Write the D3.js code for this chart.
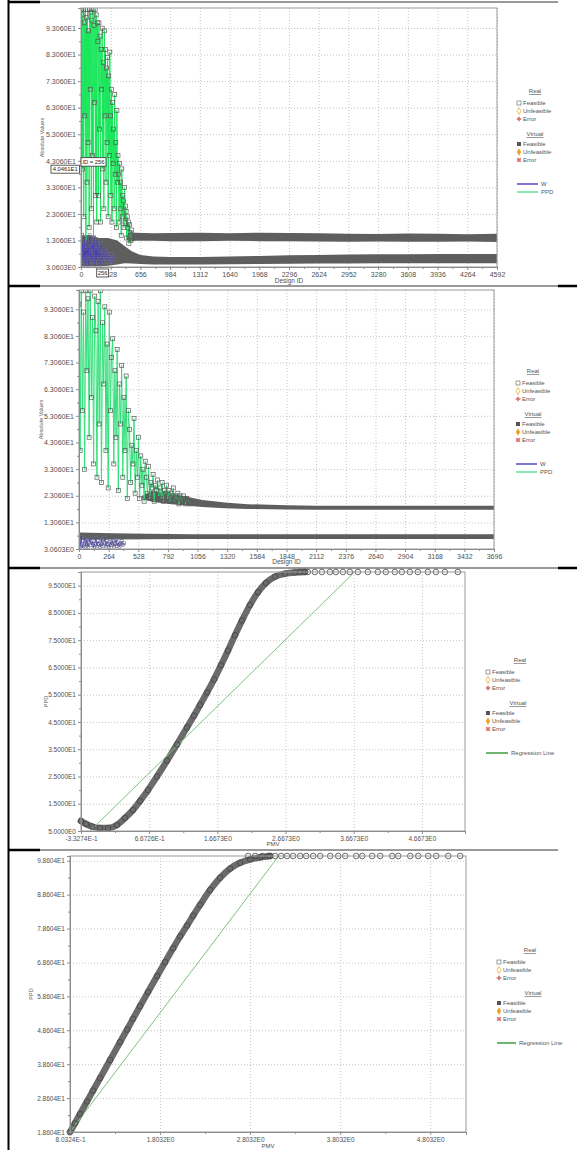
<!DOCTYPE html>
<html>
<head>
<meta charset="utf-8">
<script src="https://cdn.jsdelivr.net/npm/d3@7"></script>
<style>
body { margin: 0; background: #fff; }
</style>
</head>
<body>
<svg width="577" height="1150"></svg>
<script>
var FONT = "Liberation Sans, Arial, sans-serif";

// ---------- panel 1 : design history, 4592 designs ----------
var p1XTicks = [0, 328, 656, 984, 1312, 1640, 1968, 2296, 2624, 2952, 3280, 3608, 3936, 4264, 4592];
var p1YTicks = [3.0603, 13.060, 23.060, 33.060, 43.060, 53.060, 63.060, 73.060, 83.060, 93.060];
var p1YLabels = ["3.0603E0", "1.3060E1", "2.3060E1", "3.3060E1", "4.3060E1", "5.3060E1", "6.3060E1", "7.3060E1", "8.3060E1", "9.3060E1"];
// real PPD designs, one value every 6 ids
var p1PpdStep = 6;
var p1Ppd = [100, 15, 98, 40, 100, 22, 95, 60, 100, 12, 97, 35, 100, 50, 92, 18, 100, 70, 99, 25, 96, 45, 100, 14, 94, 65, 100, 30, 98, 20, 95,
  88, 30, 95, 55, 90, 20, 85, 70, 93, 40, 80, 25, 92, 60,
  85, 35, 78, 50, 82, 22, 75, 45, 84,
  60, 30, 70, 20, 65, 42, 55, 25, 68, 38, 50, 18, 62, 35, 45,
  38, 20, 42, 25, 35, 15, 40, 22, 30, 28, 18, 33, 20, 26,
  24, 14, 22, 18, 20, 12, 19, 16, 15, 13, 17, 14];
// real W designs, one value every 8 ids
var p1WStep = 8;
var p1W = [8, 4, 12, 6, 14, 5, 10, 3.5, 13, 7, 11, 4, 15, 6, 9, 5, 12, 8, 14, 4, 10, 6, 13, 5, 11, 7, 9, 4, 12, 6, 8, 5, 10, 7, 6, 9, 5, 8, 6, 7, 5, 6, 8, 5, 7, 6];
// virtual designs: [id, low, high]
var p1VirtUpper = [[500, 13.5, 14.5], [540, 12.7, 16.2], [600, 12.9, 16.0], [800, 12.9, 15.8], [1000, 12.8, 15.9], [1312, 12.8, 16.0], [1640, 12.9, 15.8],
  [1968, 12.8, 16.0], [2296, 12.8, 15.9], [2624, 12.7, 15.8], [2952, 12.6, 15.6], [3280, 12.7, 15.5], [3608, 12.6, 15.7],
  [3936, 12.6, 15.6], [4264, 12.7, 15.4], [4592, 12.5, 15.6]];
var p1VirtLower = [[0, 3.3, 15], [100, 3.3, 15], [200, 3.3, 14], [300, 3.5, 14], [400, 4.0, 13], [480, 4.5, 11], [560, 4.4, 9],
  [656, 4.2, 7.6], [800, 4.0, 7.0], [984, 4.0, 6.8], [1312, 4.0, 6.8], [1640, 4.1, 7.0], [1968, 4.2, 7.2], [2296, 4.3, 7.5],
  [2624, 4.4, 7.6], [2952, 4.4, 7.8], [3280, 4.5, 7.9], [3608, 4.5, 7.9], [3936, 4.5, 8.0], [4264, 4.5, 8.0], [4592, 4.5, 8.0]];
var p1Pick = { id: 256, value: 40.461, idText: "ID = 256", valueText: "4.0461E1" };

// ---------- panel 2 : design history, 3696 designs ----------
var p2XTicks = [0, 264, 528, 792, 1056, 1320, 1584, 1848, 2112, 2376, 2640, 2904, 3168, 3432, 3696];
var p2YTicks = p1YTicks;
var p2YLabels = p1YLabels;
var p2PpdStep = 10;
var p2Ppd = [95, 40, 100, 55, 92, 33, 100, 70, 97, 45, 100, 60, 90, 35, 98,
  85, 30, 96, 50, 100, 28, 88, 65, 94, 40, 80, 26, 92, 55, 75,
  82, 35, 70, 45, 78, 25, 65, 50, 72, 30, 60, 40, 68, 22, 55,
  48, 28, 42, 35, 52, 24, 40, 30, 45, 22, 38, 27, 33, 21, 36,
  30, 24, 34, 22, 28, 26, 31, 21, 27, 25, 29, 23, 26, 22, 28, 21, 25, 24, 27, 22,
  25, 21, 24, 23, 26, 21, 23, 22, 24, 20, 23, 22, 21, 23, 22, 20, 22, 21, 21, 20];
var p2WStep = 10;
var p2W = [6, 4, 7.5, 3.5, 5, 7, 4, 6.5, 3.8, 5.5, 7, 4.5, 6, 3.6, 5, 7.2, 4, 6, 5, 3.8, 6.8, 4.2, 5.5, 7, 4, 6, 4.8, 3.7, 5.8, 4.5,
  6.2, 4, 5, 6.5, 4.2, 5.5, 4, 5, 6, 4.5, 5.2];
var p2VirtUpper = [[560, 22, 23], [650, 20.8, 25], [800, 20, 24], [950, 19.4, 22.8], [1100, 18.8, 21.5], [1300, 18.4, 20.5],
  [1500, 18.1, 19.9], [1848, 17.9, 19.5], [2112, 17.8, 19.3], [2640, 17.8, 19.3], [3168, 17.8, 19.3], [3696, 17.8, 19.3]];
var p2VirtLower = [[0, 6.5, 9.3], [300, 6.6, 9.0], [600, 6.7, 8.8], [1000, 6.8, 8.6], [1500, 6.8, 8.6], [2000, 6.8, 8.6],
  [2500, 6.8, 8.6], [3000, 6.8, 8.6], [3696, 6.8, 8.6]];

// ---------- panel 3 : PPD vs PMV ----------
var p3XTicks = [-0.33274, 0.66726, 1.6673, 2.6673, 3.6673, 4.6673];
var p3XLabels = ["-3.3274E-1", "6.6726E-1", "1.6673E0", "2.6673E0", "3.6673E0", "4.6673E0"];
var p3YTicks = [5, 15, 25, 35, 45, 55, 65, 75, 85, 95];
var p3YLabels = ["5.0000E0", "1.5000E1", "2.5000E1", "3.5000E1", "4.5000E1", "5.5000E1", "6.5000E1", "7.5000E1", "8.5000E1", "9.5000E1"];
var p3Pmv = [-0.333, -0.259, -0.171, -0.054, 0.063, 0.195, 0.313, 0.430, 0.533, 0.650, 0.782, 0.929, 1.075, 1.222, 1.325, 1.413,
  1.516, 1.618, 1.721, 1.823, 1.926, 2.029, 2.146, 2.264, 2.381, 2.513, 2.660, 2.806, 2.953];
var p3Ppd = [8.67, 7.57, 6.65, 6.10, 6.10, 7.20, 9.77, 12.70, 16.00, 20.00, 25.00, 30.80, 36.80, 43.00, 47.30, 51.20,
  55.80, 60.60, 65.80, 71.20, 76.80, 82.20, 87.90, 92.60, 96.00, 98.30, 99.40, 99.85, 100];
var p3TopPmv = [2.878, 2.995, 3.098, 3.201, 3.318, 3.406, 3.509, 3.611, 3.729, 3.875, 4.022, 4.139, 4.271, 4.374, 4.491,
  4.608, 4.755, 4.873, 5.005, 5.195];
var p3Regression = [[-0.20, 5], [3.68, 100]];

// ---------- panel 4 : PPD vs PMV ----------
var p4XTicks = [0.80324, 1.8032, 2.8032, 3.8032, 4.8032];
var p4XLabels = ["8.0324E-1", "1.8032E0", "2.8032E0", "3.8032E0", "4.8032E0"];
var p4YTicks = [18.604, 28.604, 38.604, 48.604, 58.604, 68.604, 78.604, 88.604, 98.604];
var p4YLabels = ["1.8604E1", "2.8604E1", "3.8604E1", "4.8604E1", "5.8604E1", "6.8604E1", "7.8604E1", "8.8604E1", "9.8604E1"];
var p4Pmv = [0.803, 0.859, 0.914, 0.992, 1.059, 1.137, 1.248, 1.359, 1.437, 1.503, 1.581, 1.670, 1.770, 1.859, 1.948, 2.026,
  2.103, 2.170, 2.248, 2.359, 2.470, 2.581, 2.692, 2.803, 2.914, 3.025];
var p4Ppd = [18.6, 21.2, 23.9, 27.6, 30.8, 34.5, 39.8, 45.1, 48.8, 52.0, 55.7, 59.9, 64.6, 68.7, 72.8, 76.3,
  79.5, 82.4, 85.6, 90.0, 93.6, 96.3, 98.0, 99.0, 99.6, 100];
var p4TopPmv = [2.781, 2.859, 2.936, 3.003, 3.081, 3.148, 3.214, 3.281, 3.359, 3.425, 3.503, 3.581, 3.692, 3.781, 3.859,
  3.981, 4.048, 4.159, 4.248, 4.381, 4.448, 4.581, 4.670, 4.781, 4.870, 5.003, 5.136];
var p4Regression = [[0.80324, 18.604], [3.12, 100]];

var svg = d3.select("svg");
svg.append("rect").attr("width", 577).attr("height", 1150).attr("fill", "#fff");

function styleAxis(s, fs) {
  s.attr("font-size", fs).attr("font-family", FONT);
  s.select(".domain").attr("stroke", "#8c8c8c");
  s.selectAll(".tick line").attr("stroke", "#8c8c8c");
  s.selectAll(".tick text").attr("fill", "#505050");
}

// grid + frame, then a layer for marks, then axes on top
function makePanel(o) {
  var x = d3.scaleLinear().domain(o.xDomain).range([o.left, o.right]);
  var y = d3.scaleLinear().domain(o.yDomain).range([o.bottom, o.top]);
  var w = o.right - o.left, h = o.bottom - o.top;
  svg.append("clipPath").attr("id", o.id).append("rect")
    .attr("x", o.left).attr("y", o.top).attr("width", w).attr("height", h);

  var grid = svg.append("g");
  grid.append("g").attr("transform", "translate(0," + o.bottom + ")")
    .call(d3.axisBottom(x).tickValues(o.xTicks).tickSize(-h).tickFormat(""))
    .call(function (s) { s.select(".domain").remove(); });
  grid.append("g").attr("transform", "translate(" + o.left + ",0)")
    .call(d3.axisLeft(y).tickValues(o.yTicks).tickSize(-w).tickFormat(""))
    .call(function (s) { s.select(".domain").remove(); });
  grid.selectAll("line").attr("stroke", "#c4c4c4").attr("stroke-dasharray", "1,2");

  var marks = svg.append("g");
  var top = svg.append("g");
  top.append("rect").attr("x", o.left).attr("y", o.top).attr("width", w).attr("height", h)
    .attr("fill", "none").attr("stroke", "#9a9a9a");

  var xMinor = d3.pairs(o.xTicks).map(function (p) { return (p[0] + p[1]) / 2; });
  var yMinor = d3.pairs(o.yTicks).map(function (p) { return (p[0] + p[1]) / 2; });
  top.append("g").attr("transform", "translate(0," + o.bottom + ")")
    .call(d3.axisBottom(x).tickValues(xMinor).tickSize(2).tickFormat(""))
    .call(styleAxis, o.fs);
  top.append("g").attr("transform", "translate(" + o.left + ",0)")
    .call(d3.axisLeft(y).tickValues(yMinor).tickSize(2).tickFormat(""))
    .call(styleAxis, o.fs);
  top.append("g").attr("transform", "translate(0," + o.bottom + ")")
    .call(d3.axisBottom(x).tickValues(o.xTicks).tickSize(3).tickPadding(2)
      .tickFormat(function (d, i) { return o.xLabels[i]; }))
    .call(styleAxis, o.fs);
  top.append("g").attr("transform", "translate(" + o.left + ",0)")
    .call(d3.axisLeft(y).tickValues(o.yTicks).tickSize(3).tickPadding(2)
      .tickFormat(function (d, i) { return o.yLabels[i]; }))
    .call(styleAxis, o.fs);

  top.append("text").text(o.xTitle)
    .attr("x", (o.left + o.right) / 2).attr("y", o.xTitleY)
    .attr("text-anchor", "middle").attr("font-size", o.fs - 0.5).attr("font-family", FONT).attr("fill", "#505050");
  top.append("text").text(o.yTitle)
    .attr("transform", "translate(" + o.yTitleX + "," + ((o.top + o.bottom) / 2) + ") rotate(-90)")
    .attr("text-anchor", "middle").attr("font-size", 5.5).attr("font-family", FONT).attr("fill", "#606060");

  return { x: x, y: y, marks: marks, top: top, clip: "url(#" + o.id + ")" };
}

function drawHistory(p, virtUpper, virtLower, ppd, ppdStep, w, wStep, green) {
  var band = d3.area()
    .x(function (d) { return p.x(d[0]); })
    .y0(function (d) { return p.y(d[1]); })
    .y1(function (d) { return p.y(d[2]); });
  var m = p.marks.append("g").attr("clip-path", p.clip);
  m.append("path").datum(virtLower).attr("d", band).attr("fill", "#5e5e5e");
  m.append("path").datum(virtUpper).attr("d", band).attr("fill", "#5e5e5e");

  var ppdPts = ppd.map(function (v, i) { return [i * ppdStep, v]; });
  var wPts = w.map(function (v, i) { return [i * wStep, v]; });
  var line = d3.line().x(function (d) { return p.x(d[0]); }).y(function (d) { return p.y(d[1]); });

  m.append("path").datum(ppdPts).attr("d", line).attr("fill", "none")
    .attr("stroke", green).attr("stroke-width", 1);
  m.selectAll(".sq").data(ppdPts).enter().append("rect")
    .attr("x", function (d) { return p.x(d[0]) - 2; })
    .attr("y", function (d) { return p.y(d[1]) - 2; })
    .attr("width", 4).attr("height", 4)
    .attr("fill", "none").attr("stroke", "#5a5a5a").attr("stroke-width", 0.7);
  m.append("path").datum(wPts).attr("d", line).attr("fill", "none")
    .attr("stroke", "#4a3fb8").attr("stroke-width", 1);
  m.selectAll(".sqw").data(wPts).enter().append("rect")
    .attr("x", function (d) { return p.x(d[0]) - 1.5; })
    .attr("y", function (d) { return p.y(d[1]) - 1.5; })
    .attr("width", 3).attr("height", 3)
    .attr("fill", "none").attr("stroke", "#6a6a8a").attr("stroke-width", 0.6);
}

function drawScatter(p, pmv, ppd, topPmv, reg) {
  var pts = pmv.map(function (v, i) { return [v, ppd[i]]; });
  var topPts = topPmv.map(function (v) { return [v, 100]; });
  var line = d3.line().curve(d3.curveMonotoneX)
    .x(function (d) { return p.x(d[0]); }).y(function (d) { return p.y(d[1]); });
  var m = p.marks;
  m.append("path").datum(pts).attr("d", line).attr("fill", "none")
    .attr("stroke", "#6b6b6b").attr("stroke-width", 6.5).attr("stroke-linecap", "round");
  m.append("path").datum(reg)
    .attr("d", d3.line().x(function (d) { return p.x(d[0]); }).y(function (d) { return p.y(d[1]); }))
    .attr("fill", "none").attr("stroke", "#7cc47c").attr("stroke-width", 1).attr("clip-path", p.clip);
  m.selectAll(".c").data(pts.concat(topPts)).enter().append("circle")
    .attr("cx", function (d) { return p.x(d[0]); })
    .attr("cy", function (d) { return p.y(d[1]); })
    .attr("r", 2.8).attr("fill", "none").attr("stroke", "#444").attr("stroke-width", 0.8);
}

function legend(sx, ly, realX, virtX, lines) {
  var g = svg.append("g").attr("font-family", FONT).attr("font-size", 6).attr("fill", "#555");
  function title(t, cx, y) {
    var tt = g.append("text").text(t).attr("x", cx).attr("y", y).attr("text-anchor", "middle");
    var wd = tt.node().getComputedTextLength();
    g.append("line").attr("x1", cx - wd / 2).attr("x2", cx + wd / 2).attr("y1", y + 1.5).attr("y2", y + 1.5)
      .attr("stroke", "#555").attr("stroke-width", 0.6);
  }
  function label(t, y) { g.append("text").text(t).attr("x", sx + 6).attr("y", y + 2); }
  var cx = sx + 2;
  title("Real", realX, ly);
  g.append("rect").attr("x", sx).attr("y", ly + 8).attr("width", 4).attr("height", 4)
    .attr("fill", "none").attr("stroke", "#777").attr("stroke-width", 0.7);
  label("Feasible", ly + 10);
  g.append("path").attr("d", d3.symbol(d3.symbolDiamond, 14)()).attr("transform", "translate(" + cx + "," + (ly + 18) + ")")
    .attr("fill", "none").attr("stroke", "#f0b030").attr("stroke-width", 0.8);
  label("Unfeasible", ly + 18);
  g.append("path").attr("d", d3.symbol(d3.symbolCross, 12)()).attr("transform", "translate(" + cx + "," + (ly + 26) + ")")
    .attr("fill", "#d86a6a");
  label("Error", ly + 26);
  title("Virtual", virtX, ly + 43);
  g.append("rect").attr("x", sx).attr("y", ly + 49).attr("width", 4).attr("height", 4).attr("fill", "#555");
  label("Feasible", ly + 51);
  g.append("path").attr("d", d3.symbol(d3.symbolDiamond, 16)()).attr("transform", "translate(" + cx + "," + (ly + 59) + ")")
    .attr("fill", "#f0a020");
  label("Unfeasible", ly + 59);
  g.append("path").attr("d", d3.symbol(d3.symbolCross, 14)()).attr("transform", "translate(" + cx + "," + (ly + 67) + ") rotate(45)")
    .attr("fill", "#e06a6a");
  label("Error", ly + 67);
  lines.forEach(function (l, i) {
    var y = ly + 91 + i * 8;
    g.append("line").attr("x1", sx).attr("x2", sx + l.len).attr("y1", y).attr("y2", y)
      .attr("stroke", l.color).attr("stroke-width", 1.5);
    g.append("text").text(l.name).attr("x", sx + l.len + 3).attr("y", y + 2);
  });
}

// ---------- panel 1 ----------
var p1 = makePanel({ id: "c1", left: 81, right: 497, top: 8, bottom: 267,
  xDomain: [0, 4592], yDomain: [3.0603, 100.6],
  xTicks: p1XTicks, xLabels: p1XTicks, yTicks: p1YTicks, yLabels: p1YLabels,
  fs: 7, xTitle: "Design ID", xTitleY: 283, yTitle: "Absolute Values", yTitleX: 44 });
drawHistory(p1, p1VirtUpper, p1VirtLower, p1Ppd, p1PpdStep, p1W, p1WStep, "#18e65a");
// picked design tooltip
(function () {
  var px = p1.x(p1Pick.id), py = p1.y(p1Pick.value);
  var t = p1.top.append("g").attr("font-family", FONT).attr("font-size", 5.8).attr("fill", "#222");
  t.append("rect").attr("x", 81).attr("y", py - 10).attr("width", 25).attr("height", 8.5)
    .attr("fill", "#fff").attr("stroke", "#333").attr("stroke-width", 0.8);
  t.append("text").text(p1Pick.idText).attr("x", 93.5).attr("y", py - 3.6).attr("text-anchor", "middle");
  t.append("rect").attr("x", 51).attr("y", py - 2.5).attr("width", 28.5).attr("height", 8)
    .attr("fill", "#fff").attr("stroke", "#333").attr("stroke-width", 0.8);
  t.append("text").text(p1Pick.valueText).attr("x", 65.2).attr("y", py + 3.6).attr("text-anchor", "middle");
  t.append("rect").attr("x", px - 7.5).attr("y", 269).attr("width", 12).attr("height", 8)
    .attr("fill", "#fff").attr("stroke", "#333").attr("stroke-width", 0.8);
  t.append("text").text(p1Pick.id).attr("x", px - 1.5).attr("y", 275.2).attr("text-anchor", "middle");
})();
legend(517, 93, 535, 535, [{ name: "W", color: "#5548c8", len: 21 }, { name: "PPD", color: "#5fe39a", len: 21 }]);

// ---------- panel 2 ----------
var p2 = makePanel({ id: "c2", left: 79, right: 494, top: 290, bottom: 549,
  xDomain: [0, 3696], yDomain: [3.0603, 100.3],
  xTicks: p2XTicks, xLabels: p2XTicks, yTicks: p2YTicks, yLabels: p2YLabels,
  fs: 7, xTitle: "Design ID", xTitleY: 564, yTitle: "Absolute Values", yTitleX: 43 });
drawHistory(p2, p2VirtUpper, p2VirtLower, p2Ppd, p2PpdStep, p2W, p2WStep, "#33e07a");
legend(516, 373, 533, 533, [{ name: "W", color: "#5548c8", len: 21 }, { name: "PPD", color: "#5fe39a", len: 21 }]);

// ---------- panel 3 ----------
var p3 = makePanel({ id: "c3", left: 81, right: 465, top: 572, bottom: 831,
  xDomain: [-0.33274, 5.30], yDomain: [5, 100],
  xTicks: p3XTicks, xLabels: p3XLabels, yTicks: p3YTicks, yLabels: p3YLabels,
  fs: 6.5, xTitle: "PMV", xTitleY: 846, yTitle: "PPD", yTitleX: 48 });
drawScatter(p3, p3Pmv, p3Ppd, p3TopPmv, p3Regression);
legend(486, 662, 520, 518, [{ name: "Regression Line", color: "#3e9e3e", len: 22 }]);

// ---------- panel 4 ----------
var p4 = makePanel({ id: "c4", left: 70, right: 466, top: 856, bottom: 1132,
  xDomain: [0.80324, 5.2], yDomain: [18.604, 100],
  xTicks: p4XTicks, xLabels: p4XLabels, yTicks: p4YTicks, yLabels: p4YLabels,
  fs: 6.5, xTitle: "PMV", xTitleY: 1148, yTitle: "PPD", yTitleX: 33 });
drawScatter(p4, p4Pmv, p4Ppd, p4TopPmv, p4Regression);
legend(497, 952, 530, 533, [{ name: "Regression Line", color: "#3e9e3e", len: 19 }]);

// ---------- page borders ----------
var borders = svg.append("g").attr("stroke", "#000");
borders.append("line").attr("x1", 8.5).attr("x2", 8.5).attr("y1", 0).attr("y2", 1150).attr("stroke-width", 2);
[2, 286, 568, 850].forEach(function (y) {
  borders.append("line").attr("x1", 8).attr("x2", 558).attr("y1", y).attr("y2", y).attr("stroke-width", 0.8);
  borders.append("line").attr("x1", 8).attr("x2", 40).attr("y1", y).attr("y2", y).attr("stroke-width", 2.5);
});
[286, 568].forEach(function (y) {
  borders.append("line").attr("x1", 558).attr("x2", 577).attr("y1", y).attr("y2", y).attr("stroke-width", 2.5);
});
</script>
</body>
</html>
